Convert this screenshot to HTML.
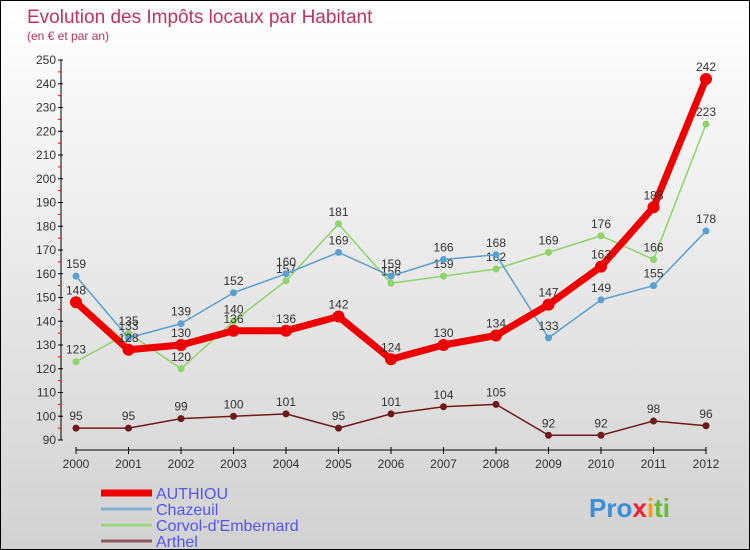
<!DOCTYPE html>
<html><head><meta charset="utf-8"><style>
body{margin:0}
#c{width:748px;height:548px;border:1px solid #000;background:linear-gradient(#fff,#d2d2d2);position:relative;font-family:"Liberation Sans",sans-serif;overflow:hidden}
</style></head><body>
<div id="c">
<svg id="s" width="748" height="548">
<text x="26" y="22" font-size="19" fill="#c0325e">Evolution des Impôts locaux par Habitant</text>
<text x="26" y="39" font-size="12" fill="#c0325e">(en € et par an)</text>
<text x="588" y="516" font-size="26" font-weight="bold" fill="#3a8fd8">Pro<tspan fill="#e23">x</tspan><tspan fill="#f90">i</tspan><tspan fill="#6b3">ti</tspan></text>
</svg></div>
<script>
const years=["2000","2001","2002","2003","2004","2005","2006","2007","2008","2009","2010","2011","2012"];
const yTicks=[90,100,110,120,130,140,150,160,170,180,190,200,210,220,230,240,250];
const authiou=[148,128,130,136,136,142,124,130,134,147,163,188,242];
const chazeuil=[159,133,139,152,160,169,159,166,168,133,149,155,178];
const corvol=[123,135,120,140,157,181,156,159,162,169,176,166,223];
const arthel=[95,95,99,100,101,95,101,104,105,92,92,98,96];
const NS="http://www.w3.org/2000/svg",s=document.getElementById('s');
const X=i=>75+i*52.5, Y=v=>439-(v-90)*2.375;
function el(t,a,p){const e=document.createElementNS(NS,t);for(const k in a)e.setAttribute(k,a[k]);(p||s).appendChild(e);return e;}
let ax=el('line',{x1:60,y1:59,x2:60,y2:439,stroke:'#000'});

yTicks.forEach(v=>{el('line',{x1:57,x2:62,y1:Y(v),y2:Y(v),stroke:'#000'});
 if(v<250)el('line',{x1:57,x2:60,y1:Y(v+5),y2:Y(v+5),stroke:'#f00'});
 const t=el('text',{x:55,y:Y(v)+4,'font-size':12,fill:'#333','text-anchor':'end'});t.textContent=v;
 });
let xa=el('line',{x1:X(0),y1:449,x2:X(12),y2:449,stroke:'#000'});

years.forEach((y,i)=>{el('line',{x1:X(i),x2:X(i),y1:446,y2:453,stroke:'#000'});
 const t=el('text',{x:X(i),y:467,'font-size':12,fill:'#333','text-anchor':'middle'});t.textContent=y;
 });
function series(d,col,w,r,name){
 const g=el('g',{});
 el('polyline',{points:d.map((v,i)=>X(i)+','+Y(v)).join(' '),fill:'none',stroke:col,'stroke-width':w,'stroke-linejoin':'round'},g);
 d.forEach((v,i)=>{const c=el('circle',{cx:X(i),cy:Y(v),r:r,fill:col},g);
  
  const t=el('text',{x:X(i),y:Y(v)-8,'font-size':12,fill:'#333','text-anchor':'middle'},g);t.textContent=v;});
}
series(arthel,'#6e1a1a',1.5,3.5,'arthel');
series(corvol,'#8fd36a',1.5,3.5,'corvol');
series(chazeuil,'#5b9fd0',1.5,3.5,'chazeuil');
series(authiou,'#ee0000',7,6,'authiou');
const leg=[['AUTHIOU','#ee0000',7],['Chazeuil','#7fb0d0',3],['Corvol-d\'Embernard','#9dd47d',3],['Arthel','#8e5a5a',3]];
leg.forEach((l,i)=>{const g=el('g',{});
 const y=492+i*16;el('line',{x1:100,x2:151,y1:y,y2:y,stroke:l[1],'stroke-width':l[2]},g);
 const t=el('text',{x:155,y:y+6,'font-size':16,fill:'#5555ee'},g);t.textContent=l[0];});
</script></body></html>
